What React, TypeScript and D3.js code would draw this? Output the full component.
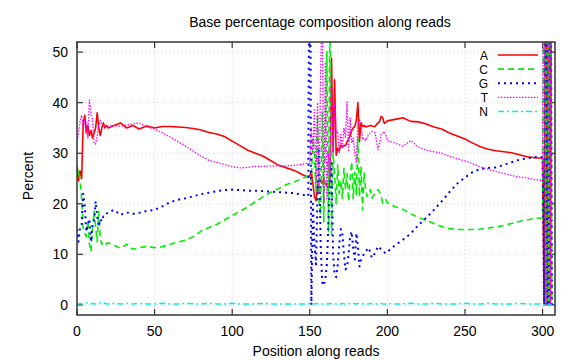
import React from 'react';
import * as d3 from 'd3';

// position along the read (dense where the curves are noisy)
const positions = [
  0, 1, 2, 3, 4, 5, 6, 7, 8, 9, 10, 11, 12, 13, 14, 15, 16, 17, 18, 19, 20,
  24, 28, 32, 36, 40, 45, 50, 55, 60, 65, 70, 75, 80, 85, 90, 95, 100, 105, 110,
  115, 120, 125, 130, 135, 140, 145, 148, 149,
  150, 151, 152, 153, 154, 155, 156, 157, 158, 159,
  160, 161, 162, 163, 164, 165, 166, 167, 168, 169,
  170, 171, 172, 173, 174, 175, 176, 177, 178, 179,
  180, 181, 182, 183, 184, 185, 186, 187, 188, 189,
  190, 191, 192, 193, 194, 195, 196, 197, 198, 199, 200,
  205, 210, 215, 220, 225, 230, 235, 240, 245, 250,
  255, 260, 265, 270, 275, 280, 285, 290, 295, 300,
  301, 302, 303, 304, 305, 306,
];

const baseA = [
  27.5, 24.5, 26.5, 25, 36, 37.5, 34, 35.5, 33.5, 34.5, 33, 34, 35, 38, 35, 33.5, 35, 36, 35, 35.5, 35,
  35.5, 36, 35, 35.5, 34.8, 35.4, 35, 35.3, 35.3, 35.2, 35.1, 34.9, 34.6, 34.1, 33.8, 33.3, 32.4, 31.5, 30.6,
  30, 29.4, 28.5, 27.6, 27.1, 26.6, 25.8, 25.4, 25.3,
  25.5, 26.5, 24, 21.4, 20.6, 23.5, 25, 24.5, 24, 25,
  24, 23.5, 23, 24.5, 48.8, 30.3, 44.5, 29.6, 31, 30.5,
  31.6, 31.2, 31.5, 31.5, 32.3, 32.8, 33.5, 34.5, 35, 35.3,
  36.5, 40, 32.3, 36, 35.3, 35.5, 35.2, 35.3, 35.4, 35.5,
  35.4, 35.3, 35.3, 35.7, 36, 36.3, 37.3, 37, 35.9, 36.1, 36.4,
  36.7, 37, 36.3, 36.2, 35.8, 35.2, 34.8, 34, 33.4, 32.8,
  32, 31.3, 30.8, 30.5, 30.3, 30.1, 29.7, 29.3, 29.1, 29,
  0, 100, 0, 100, 0, 100,
];

const baseC = [
  25.5, 26.7, 24.5, 21, 15, 14.3, 13.5, 16.5, 12, 10.5, 15, 18.5, 15.5, 12.5, 18.5, 13, 12, 12.3, 12.5, 12, 12.3,
  11.8, 11.2, 12, 11, 11.3, 11.6, 11.3, 11.5, 12, 12.4, 12.8, 13.5, 14.6, 15.3, 15.9, 16.8, 17.7, 18.5, 19.4,
  20.4, 21.4, 22.3, 23, 23.8, 24.3, 25, 25.4, 25.5,
  25.5, 24.4, 33, 30, 22.4, 37.6, 20, 17.8, 38.2, 16.4,
  32.3, 50.1, 14.5, 60, 13.9, 30, 25.7, 20, 27.7, 22,
  24.6, 21, 27, 23, 26, 20.5, 25, 28.3, 21, 26.3,
  21.8, 32.9, 21.4, 27.4, 18.8, 26.1, 22.8, 21.4, 22, 22.8,
  21.1, 21.6, 22.1, 22.5, 22.8, 22.3, 21.5, 20.1, 20.4, 20.8, 20.2,
  19.4, 18.9, 18, 17.3, 16.7, 16.1, 15.5, 15.1, 14.9, 14.9,
  14.9, 15, 15.2, 15.4, 15.7, 16.1, 16.5, 16.8, 17.1, 17.2,
  100, 0, 100, 0, 100, 0,
];

const baseG = [
  15, 12.5, 15.5, 16, 22, 19.5, 14.5, 16, 17, 12.5, 16, 16.5, 20.5, 17.5, 15.5, 17, 16.5, 17.5, 17.5, 18, 18.3,
  18.8, 17.8, 18.3, 18, 18.2, 18.6, 18.8, 19.5, 20.3, 20.8, 21.1, 21.5, 21.9, 22.2, 22.5, 22.7, 22.8, 22.7, 22.6,
  22.6, 22.5, 22.4, 22.3, 22.2, 22.1, 21.8, 21.6, 21.5,
  100, 0, 20, 12, 8, 22, 31, 12, 4.5, 3.8,
  5, 8, 16, 24, 28, 10, 6, 5.5, 8, 12,
  15, 14, 10, 7, 7.5, 10, 13.5, 14.5, 11, 9,
  14.2, 11.6, 7.6, 8.9, 9.5, 10.1, 10.5, 11, 11.3, 10.3,
  9.3, 9.8, 10.2, 10.9, 11.6, 11.3, 10.9, 10.6, 10.4, 10.2, 10.5,
  11.8, 12.9, 14.1, 15.8, 17.2, 18.8, 20.5, 22.3, 24, 25.2,
  26.3, 26.9, 27.1, 27.2, 27.7, 28.2, 28.7, 29, 29.2, 29.2,
  0, 100, 0, 0, 100, 0,
];

const baseT = [
  32.5, 34, 36.5, 37.5, 35, 36.5, 36, 33, 40.5, 38, 36.5, 32, 31.8, 33.5, 35.5, 36.5, 35.5, 35.5, 35.3, 35.5, 35.3,
  35.5, 35.3, 35.6, 35.8, 36, 35.2, 34.8, 34, 33.2, 32.3, 31.4, 30.4, 29.4, 28.6, 28.2, 27.8, 27.3, 27.1, 27.2,
  27.4, 27.4, 27.5, 27.5, 27.5, 27.6, 27.8, 28, 28,
  28, 35, 30, 38.9, 24, 40, 22, 46.5, 60, 20,
  48, 21, 30, 24, 45.5, 30, 40, 34, 34.3, 30,
  33.7, 31, 35, 33, 40.2, 30.3, 37, 32, 33, 30,
  28.1, 36, 36.6, 36, 32.7, 33, 32.5, 33.2, 33.7, 34,
  34.3, 34.2, 34.1, 32.5, 30.7, 32, 33.7, 34, 34.3, 33.5, 32.5,
  32, 31.4, 32.5, 31.2, 30.6, 30.3, 30, 29.4, 28.9, 28.5,
  27.9, 27.3, 26.8, 26.4, 26, 25.6, 25.3, 25.1, 24.8, 24.6,
  100, 0, 0, 100, 0, 100,
];

const baseN = [
  0.1, 0.2, 0.3, 0.2, 0.2, 0.3, 0.4, 0.3, 0.2, 0.2, 0.3, 0.2, 0.2, 0.3, 0.3, 0.4, 0.6, 0.5, 0.3, 0.2, 0.2,
  0.3, 0.2, 0.3, 0.2, 0.3, 0.2, 0.2, 0.3, 0.2, 0.2, 0.3, 0.2, 0.2, 0.3, 0.2, 0.2, 0.3, 0.2, 0.2,
  0.2, 0.3, 0.2, 0.2, 0.2, 0.2, 0.2, 0.2, 0.2,
  0.4, 0.3, 0.2, 0.2, 0.3, 0.2, 0.2, 0.3, 0.2, 0.2,
  0.3, 0.2, 0.2, 0.3, 0.2, 0.3, 0.2, 0.2, 0.3, 0.2,
  0.2, 0.3, 0.2, 0.2, 0.2, 0.3, 0.2, 0.2, 0.3, 0.2,
  0.2, 0.3, 0.2, 0.2, 0.2, 0.3, 0.2, 0.2, 0.2, 0.3,
  0.2, 0.2, 0.3, 0.2, 0.2, 0.2, 0.3, 0.2, 0.2, 0.2, 0.3,
  0.2, 0.2, 0.3, 0.2, 0.2, 0.3, 0.2, 0.2, 0.2, 0.3,
  0.2, 0.2, 0.3, 0.2, 0.2, 0.2, 0.3, 0.2, 0.2, 0.2,
  0, 0, 0, 0, 0, 0,
];

const xTicks = [0, 50, 100, 150, 200, 250, 300];
const yTicks = [0, 10, 20, 30, 40, 50];

const series = [
  { name: 'A', values: baseA, color: '#ff0000', dash: undefined, width: 1.6 },
  { name: 'C', values: baseC, color: '#00ee00', dash: '6,4', width: 1.6 },
  { name: 'G', values: baseG, color: '#0000ff', dash: '2,4', width: 2 },
  { name: 'T', values: baseT, color: '#ff00ff', dash: '1.5,1.5', width: 1.3 },
  { name: 'N', values: baseN, color: '#00eeee', dash: '6,3,2,3', width: 1.5 },
];

const font = 'Liberation Sans, Arial, sans-serif';

const App = () => {
  const width = 576;
  const height = 360;
  const left = 77, right = 555, top = 42, bottom = 315;

  const x = d3.scaleLinear().domain([0, 308]).range([left, right]);
  const y = d3.scaleLinear().domain([-2, 52]).range([bottom, top]);

  const line = d3.line<number>()
    .x((_, i) => x(positions[i]))
    .y((d) => y(d));

  return (
    <svg width={width} height={height} style={{ position: 'absolute', left: 0, top: 0, background: '#fff' }}
      fontFamily={font} fontSize={14}>
      <defs>
        <clipPath id="plot">
          <rect x={left} y={top} width={right - left} height={bottom - top} />
        </clipPath>
      </defs>

      {/* grid */}
      {xTicks.map((t) => (
        <line key={'gx' + t} x1={x(t)} x2={x(t)} y1={top} y2={bottom} stroke="#c8c8c8" strokeWidth={0.8} strokeDasharray="1,3" />
      ))}
      {yTicks.map((t) => (
        <line key={'gy' + t} x1={left} x2={right} y1={y(t)} y2={y(t)} stroke="#c8c8c8" strokeWidth={0.8} strokeDasharray="1,3" />
      ))}

      {/* ticks, mirrored on all sides */}
      {xTicks.map((t) => (
        <g key={'tx' + t} stroke="#333" strokeWidth={1.2}>
          <line x1={x(t)} x2={x(t)} y1={bottom} y2={bottom - 6} />
          <line x1={x(t)} x2={x(t)} y1={top} y2={top + 6} />
        </g>
      ))}
      {yTicks.map((t) => (
        <g key={'ty' + t} stroke="#333" strokeWidth={1.2}>
          <line x1={left} x2={left + 6} y1={y(t)} y2={y(t)} />
          <line x1={right} x2={right - 6} y1={y(t)} y2={y(t)} />
        </g>
      ))}

      {/* curves */}
      <g clipPath="url(#plot)" fill="none">
        {series.map((s) => (
          <path key={s.name} d={line(s.values) || ''} stroke={s.color} strokeWidth={s.width}
            strokeDasharray={s.dash} strokeLinejoin="round" />
        ))}
      </g>

      <rect x={left} y={top} width={right - left} height={bottom - top} fill="none" stroke="#333" strokeWidth={1.5} />

      {/* tick labels */}
      {xTicks.map((t) => (
        <text key={'lx' + t} x={x(t)} y={336} textAnchor="middle" fill="#000">{t}</text>
      ))}
      {yTicks.map((t) => (
        <text key={'ly' + t} x={68} y={y(t) + 5} textAnchor="end" fill="#000">{t}</text>
      ))}

      {/* legend */}
      {series.map((s, i) => {
        const ly = 55 + i * 14.1;
        return (
          <g key={'leg' + s.name}>
            <text x={488} y={ly + 4.5} textAnchor="end" fill="#000" fontSize={12}>{s.name}</text>
            <line x1={498} x2={538} y1={ly} y2={ly} stroke={s.color} strokeWidth={s.width} strokeDasharray={s.dash} />
          </g>
        );
      })}

      <text x={320} y={27} textAnchor="middle" fill="#000">Base percentage composition along reads</text>
      <text x={316} y={356} textAnchor="middle" fill="#000">Position along reads</text>
      <text transform={`translate(33,176) rotate(-90)`} textAnchor="middle" fill="#000">Percent</text>
    </svg>
  );
};

export default App;
